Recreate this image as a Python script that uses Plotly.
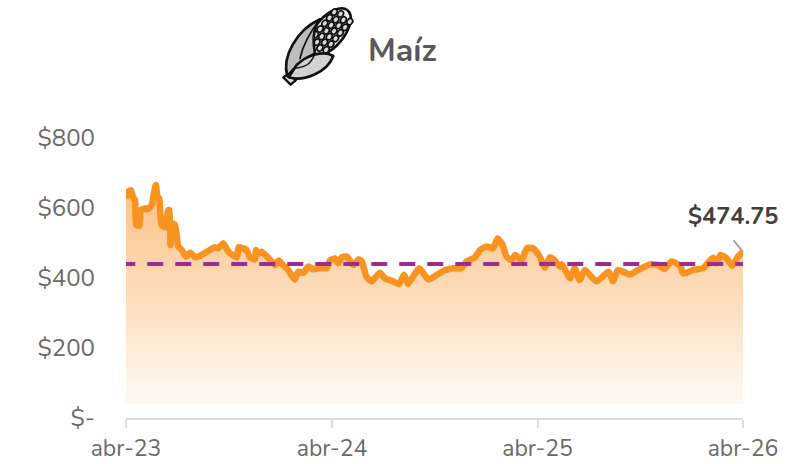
import base64
import pandas as pd
import plotly.graph_objects as go

START = pd.Timestamp("2023-04-17")
days = [0,4,9,13,16,18,24,26,34,38,46,49,53,56,59,63,69,75,77,79,82,87,93,99,107,114,123,131,140,149,158,164,173,182,197,200,214,220,229,231,235,241,256,265,271,279,288,300,306,315,324,333,345,356,362,
        371,377,383,392,404,413,419,427,436,451,460,472,485,494,501,510,521,537,552,567,581,596,605,620,629,641,652,660,669,676,685,691,703,712,723,735,744,753,760,771,
        774,789,797,806,815,836,857,865,874,895,910,931,945,957,969,984,990,1008,1025,1043,1049,1056,1067,1077,1087,1096]
prices = [628,647,651,628,623,552,549,594,599,596,609,637,666,632,628,552,545,594,594,494,556,552,490,480,461,472,459,463,471,480,488,485,499,475,459,488,480,459,453,480,469,475,452,437,450,437,423,396,418,415,433,425,428,428,450,
          456,442,459,461,437,453,447,404,390,415,399,392,383,409,383,404,428,396,409,423,428,428,447,459,480,490,485,513,494,461,451,466,451,485,485,461,430,459,453,432,
          439,399,428,394,423,390,418,391,423,410,423,439,437,426,447,435,413,423,428,458,442,466,456,435,461,474.75]
reference_price = 440
floor_price = 40
y_ticks = [0, 200, 400, 600, 800]
y_labels = ["$-", "$200", "$400", "$600", "$800"]
x_tick_days = [0, 366, 731, 1096]
x_labels = ["abr-23", "abr-24", "abr-25", "abr-26"]

dates = [START + pd.Timedelta(days=d) for d in days]
FONT = "Nunito, Lato, sans-serif"

# corn icon
kernels = ""
for r, ry in enumerate([-27, -9, 9, 27]):
    for c in range(6):
        kx = -55 + c * 22 + (r % 2) * 8
        kernels += f'<ellipse cx="{kx}" cy="{ry}" rx="10" ry="8" fill="#d9d9d9" stroke="#111" stroke-width="5"/>'
svg = f'''<svg xmlns="http://www.w3.org/2000/svg" viewBox="0 0 270 285" width="270" height="285">
<g stroke-linejoin="round" stroke-linecap="round">
<path d="M40,232 L55,220 L78,240 L62,254 Z" fill="#e0e0e0" stroke="#111" stroke-width="7"/>
<g transform="translate(178,96) rotate(-50)">
<ellipse cx="0" cy="0" rx="85" ry="44" fill="#eee" stroke="#111" stroke-width="8"/>
{kernels}
</g>
<path d="M52,228 C35,170 80,90 150,58 C125,90 130,130 135,160 C105,175 75,200 52,228 Z" fill="#bdbdbd" stroke="#111" stroke-width="8"/>
<path d="M150,58 C125,90 100,130 90,175" fill="none" stroke="#111" stroke-width="5"/>
<path d="M56,232 C100,245 170,220 190,168 C160,150 110,165 80,195 Z" fill="#d2d2d2" stroke="#111" stroke-width="8"/>
<path d="M75,205 C110,200 125,190 135,160" fill="none" stroke="#111" stroke-width="4"/>
</g></svg>'''
icon = "data:image/svg+xml;base64," + base64.b64encode(svg.encode()).decode()

W, H = 810, 464
L, R, T, B = 126, 67, 138, 46

fig = go.Figure()
fig.add_trace(go.Scatter(x=dates, y=[floor_price] * len(dates), mode="lines",
                         line=dict(width=0), hoverinfo="skip", showlegend=False))
fig.add_trace(go.Scatter(
    x=dates, y=prices, mode="lines", fill="tonexty",
    fillgradient=dict(type="vertical", start=floor_price, stop=max(prices),
                      colorscale=[[0, "#FEF9F4"], [1, "#FBC083"]]),
    line=dict(color="#F8931F", width=6.5, shape="spline", smoothing=0.5),
    cliponaxis=False, showlegend=False))
fig.add_trace(go.Scatter(
    x=[START + pd.Timedelta(days=-12), START + pd.Timedelta(days=1112)],
    y=[reference_price, reference_price], mode="lines",
    line=dict(color="#9C2C90", width=4, dash="16px,12px"),
    cliponaxis=False, showlegend=False))

fig.update_layout(
    width=W, height=H, margin=dict(l=L, r=R, t=T, b=B),
    paper_bgcolor="white", plot_bgcolor="white",
    font=dict(family=FONT, color="#6a6a6a", size=22),
    xaxis=dict(range=[START, START + pd.Timedelta(days=1096)], type="date", automargin=False,
               tickvals=[START + pd.Timedelta(days=d) for d in x_tick_days],
               ticktext=x_labels, showgrid=False, zeroline=False,
               showline=True, linecolor="#dcdcdc", linewidth=2,
               ticks="outside", ticklen=8, tickwidth=2, tickcolor="#dcdcdc",
               tickfont=dict(size=23), ticklabelstandoff=0),
    yaxis=dict(range=[0, 800], tickvals=y_ticks, ticktext=y_labels, automargin=False,
               showgrid=False, zeroline=False, showline=False, ticks="",
               ticklabelstandoff=30, tickfont=dict(size=24)),
    images=[dict(source=icon, xref="paper", yref="paper",
                 x=(270 - L) / (W - L - R), y=(H - B - 0) / (H - T - B),
                 sizex=90 / (W - L - R), sizey=95 / (H - T - B),
                 xanchor="left", yanchor="top", sizing="contain", layer="above")],
    annotations=[
        dict(x=START + pd.Timedelta(days=1096), y=prices[-1], text=" ", showarrow=True,
             arrowhead=0, arrowwidth=1.8, arrowcolor="#a0a0a0", ax=-14, ay=-17, standoff=0),
        dict(x=(732.5 - L) / (W - L - R), y=(H - B - 216) / (H - T - B), xref="paper", yref="paper",
             text="<b>$474.75</b>", showarrow=False, xanchor="center", yanchor="middle",
             font=dict(size=23.5, color="#404040", family=FONT)),
        dict(x=(366 - L) / (W - L - R), y=(H - B - 50) / (H - T - B), xref="paper", yref="paper",
             text="<b>Maíz</b>", showarrow=False, xanchor="left", yanchor="middle",
             font=dict(size=32, color="#595959", family=FONT)),
    ],
)
fig.write_html("out.html", post_script="document.body.style.margin='0';",
               config=dict(displayModeBar=False))
